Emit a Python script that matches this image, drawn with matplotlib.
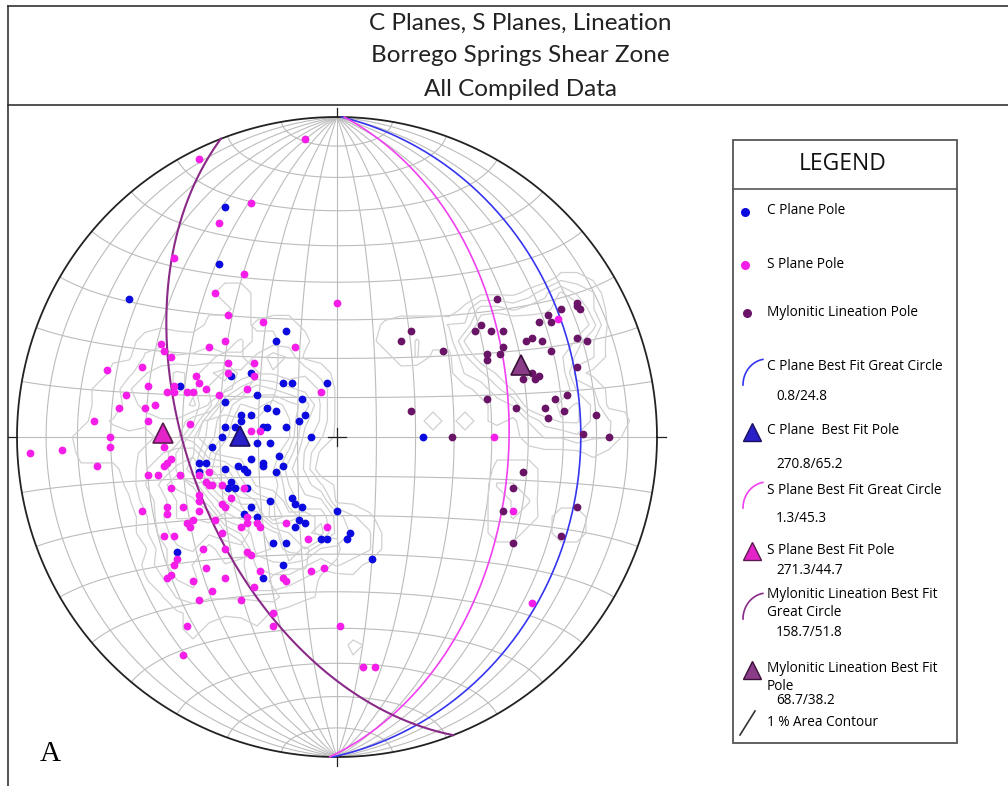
import numpy as np
import matplotlib
matplotlib.use('Agg')
import matplotlib.pyplot as plt
from matplotlib import font_manager
from matplotlib.patches import Rectangle

# Pole positions on the lower-hemisphere equal-area net (unit radius, x east, y north)
c_x = [-0.35, -0.37, -0.65, -0.16, -0.19, -0.27, -0.33, -0.49, -0.17, -0.14,
       -0.03, -0.25, -0.11, -0.35, -0.22, -0.19, -0.10, -0.12, -0.30, -0.30,
       -0.27, -0.16, -0.23, -0.22, -0.08, -0.32, -0.35, -0.36, -0.25, -0.21,
       -0.39, -0.18, -0.27, -0.23, -0.23, -0.17, -0.31, -0.29, -0.28, -0.19,
       -0.43, -0.41, -0.35, -0.43, -0.33, -0.32, -0.34, -0.28, -0.21, -0.14,
       -0.13, -0.11, 0.00, -0.27, -0.29, -0.25, -0.12, -0.10, -0.13, -0.20,
       -0.16, -0.05, -0.03, 0.03, 0.04, 0.11, -0.50, -0.17, -0.23, 0.27]
c_y = [0.72, 0.54, 0.43, 0.33, 0.30, 0.20, 0.19, 0.16, 0.17, 0.17,
       0.17, 0.13, 0.12, 0.11, 0.09, 0.08, 0.07, 0.05, 0.07, 0.05,
       0.07, 0.03, 0.03, 0.03, 0.00, 0.03, 0.03, 0.00, -0.02, -0.02,
       -0.03, -0.06, -0.07, -0.08, -0.09, -0.09, -0.09, -0.10, -0.11, -0.11,
       -0.08, -0.08, -0.10, -0.11, -0.14, -0.16, -0.16, -0.16, -0.20, -0.19,
       -0.21, -0.22, -0.23, -0.22, -0.24, -0.25, -0.26, -0.27, -0.28, -0.33,
       -0.33, -0.32, -0.32, -0.32, -0.30, -0.38, -0.36, -0.40, -0.44, 0.00]

s_x = [-0.10, -0.43, -0.27, -0.37, -0.51, -0.29, -0.38, 0.00, -0.34, -0.23,
       -0.55, -0.54, -0.35, -0.40, -0.13, -0.52, -0.72, -0.61, -0.34, -0.26,
       -0.26, -0.34, -0.44, -0.43, -0.51, -0.51, -0.53, -0.47, -0.45, -0.41,
       -0.37, -0.28, -0.05, -0.59, -0.66, -0.68, -0.60, -0.57, -0.76, -0.59,
       -0.46, -0.27, -0.24, -0.71, -0.71, -0.54, -0.52, -0.53, -0.54, -0.75,
       -0.59, -0.56, -0.49, -0.52, -0.43, -0.41, -0.40, -0.39, -0.36, -0.40,
       -0.29, -0.43, -0.43, -0.43, -0.36, -0.35, -0.33, -0.48, -0.53, -0.53,
       -0.61, -0.47, -0.46, -0.45, -0.38, -0.36, -0.54, -0.51, -0.30, -0.28,
       -0.25, -0.24, -0.28, -0.16, -0.03, -0.09, -0.28, -0.27, -0.42, -0.35,
       -0.50, -0.51, -0.41, -0.52, -0.53, -0.45, -0.35, -0.24, -0.17, -0.16,
       -0.08, -0.04, -0.39, -0.26, -0.43, -0.30, -0.20, -0.20, 0.01, -0.47,
       -0.48, 0.08, 0.12, 0.61, 0.69, 0.49, 0.55, -0.96, -0.86]
s_y = [0.93, 0.87, 0.73, 0.67, 0.56, 0.51, 0.45, 0.42, 0.38, 0.36,
       0.29, 0.27, 0.30, 0.28, 0.28, 0.25, 0.21, 0.22, 0.23, 0.23,
       0.19, 0.20, 0.19, 0.17, 0.16, 0.14, 0.14, 0.14, 0.14, 0.15,
       0.13, 0.15, 0.14, 0.16, 0.13, 0.09, 0.09, 0.10, 0.05, 0.05,
       0.04, 0.02, 0.02, 0.00, -0.03, -0.03, -0.07, -0.08, -0.09, -0.09,
       -0.12, -0.12, -0.12, -0.16, -0.12, -0.14, -0.15, -0.15, -0.15, -0.11,
       -0.16, -0.18, -0.20, -0.23, -0.21, -0.22, -0.19, -0.22, -0.22, -0.24,
       -0.23, -0.27, -0.28, -0.26, -0.26, -0.30, -0.31, -0.31, -0.28, -0.27,
       -0.27, -0.28, -0.25, -0.27, -0.28, -0.32, -0.36, -0.37, -0.35, -0.35,
       -0.38, -0.40, -0.41, -0.43, -0.44, -0.45, -0.44, -0.42, -0.44, -0.45,
       -0.42, -0.41, -0.48, -0.47, -0.51, -0.51, -0.55, -0.59, -0.59, -0.59,
       -0.68, -0.72, -0.72, -0.52, 0.37, 0.00, -0.23, -0.05, -0.04]

l_x = [0.50, 0.70, 0.75, 0.75, 0.76, 0.66, 0.63, 0.67, 0.23, 0.20,
       0.43, 0.45, 0.48, 0.52, 0.61, 0.59, 0.64, 0.75, 0.78, 0.33,
       0.47, 0.47, 0.51, 0.52, 0.67, 0.61, 0.63, 0.62, 0.58, 0.75,
       0.47, 0.68, 0.72, 0.56, 0.65, 0.71, 0.66, 0.81, 0.23, 0.36,
       0.77, 0.85, 0.58, 0.55, 0.52, 0.55, 0.75, 0.70]
l_y = [0.43, 0.40, 0.42, 0.41, 0.40, 0.38, 0.36, 0.36, 0.33, 0.30,
       0.33, 0.35, 0.33, 0.33, 0.31, 0.30, 0.30, 0.31, 0.30, 0.27,
       0.26, 0.24, 0.26, 0.28, 0.27, 0.20, 0.19, 0.18, 0.18, 0.22,
       0.12, 0.12, 0.13, 0.09, 0.09, 0.08, 0.06, 0.07, 0.08, 0.00,
       0.01, 0.00, -0.11, -0.16, -0.23, -0.33, -0.22, -0.31]

# best fit results (strike/dip for planes, trend/plunge for poles)
c_gc = (0.8, 24.8)
c_pole = (270.8, 65.2)
s_gc = (1.3, 45.3)
s_pole = (271.3, 44.7)
l_gc = (158.7, 51.8)
l_pole = (68.7, 38.2)

BLUE = '#0b0be0'
MAG = '#f51ee8'
PURP = '#6a1468'
GRID = '#bcbcbc'
CONT = '#d0d0d0'


def pick_font(*names):
    for n in names:
        try:
            font_manager.findfont(n, fallback_to_default=False)
            return n
        except ValueError:
            pass
    return 'DejaVu Sans'


SANS = pick_font('Open Sans', 'Lato')
TITLE = pick_font('Lato', 'Open Sans')
SERIF = pick_font('Liberation Serif', 'DejaVu Serif')


def proj(x, y, z):
    # lower hemisphere equal-area (Schmidt) projection, unit primitive
    k = 1.0 / np.sqrt(1.0 + z)
    return x * k, y * k


def line_xy(trend, plunge):
    t, p = np.radians(trend), np.radians(plunge)
    return proj(np.cos(p) * np.sin(t), np.cos(p) * np.cos(t), np.sin(p))


def plane_xy(strike, dip):
    s, d = np.radians(strike), np.radians(dip)
    t = np.linspace(0, np.pi, 361)
    sv = np.array([np.sin(s), np.cos(s), 0.0])
    dv = np.array([np.cos(d) * np.sin(s + np.pi / 2),
                   np.cos(d) * np.cos(s + np.pi / 2), np.sin(d)])
    v = np.outer(sv, np.cos(t)) + np.outer(dv, np.sin(t))
    return proj(v[0], v[1], v[2])


def density(px, py, gx, gy):
    px, py = np.asarray(px), np.asarray(py)
    d2 = (gx[..., None] - px) ** 2 + (gy[..., None] - py) ** 2
    pct = (d2 <= 0.1 ** 2).sum(-1) / len(px) * 100.0
    return np.where(gx ** 2 + gy ** 2 <= 1.0, pct, np.nan)


fig = plt.figure(figsize=(10.08, 7.86), dpi=100)

# page layout in pixel units
lay = fig.add_axes([0, 0, 1, 1])
lay.set_xlim(0, 1008)
lay.set_ylim(786, 0)
lay.axis('off')
lay.plot([8, 1008], [6, 6], color='#333333', lw=1.2)
lay.plot([8, 1008], [105, 105], color='#333333', lw=1.2)
lay.plot([8, 8], [6, 786], color='#333333', lw=1.2)
titles = ['C Planes, S Planes, Lineation', 'Borrego Springs Shear Zone',
          'All Compiled Data']
for i, t in enumerate(titles):
    lay.text(520, 23 + i * 33, t, ha='center', va='center', fontsize=17.5,
             family=TITLE, color='#222222')
lay.text(50, 754, 'A', ha='center', va='center', fontsize=21, family=SERIF)

# stereonet
R = 320.0
lim = 1.04
ax = fig.add_axes([(337 - lim * R) / 1008, (786 - 437 - lim * R) / 786,
                   2 * lim * R / 1008, 2 * lim * R / 786])
ax.set_xlim(-lim, lim)
ax.set_ylim(-lim, lim)
ax.axis('off')

# 10 degree grid, N-S polar axis
tt = np.radians(np.linspace(-90, 90, 181))
for a in range(10, 180, 10):
    al = np.radians(a)
    gx, gy = proj(np.cos(tt) * np.cos(al), np.sin(tt), np.cos(tt) * np.sin(al))
    ax.plot(gx, gy, color=GRID, lw=0.8, zorder=1)
ss = np.radians(np.linspace(0, 180, 181))
for b in range(10, 180, 10):
    be = np.radians(b)
    gx, gy = proj(np.sin(be) * np.cos(ss), np.full_like(ss, np.cos(be)),
                  np.sin(be) * np.sin(ss))
    ax.plot(gx, gy, color=GRID, lw=0.8, zorder=1)

# 1% area density contours
g = np.linspace(-1, 1, 41)
GX, GY = np.meshgrid(g, g)
for px, py, lv in [(c_x, c_y, [2, 4, 6, 8, 10, 12, 14]),
                   (s_x, s_y, [2, 4, 6, 8, 10]),
                   (l_x, l_y, [3, 6, 9, 12])]:
    dens = density(px, py, GX, GY)
    ax.contour(GX, GY, dens, levels=lv, colors=CONT, linewidths=0.9, zorder=2)

th = np.linspace(0, 2 * np.pi, 720)
ax.plot(np.cos(th), np.sin(th), color='#222222', lw=1.3, zorder=3)
tk = 0.028
for dx, dy in [(0, 1), (0, -1), (1, 0), (-1, 0)]:
    ax.plot([dx, dx * (1 + tk)], [dy, dy * (1 + tk)], color='#222222',
            lw=0.9, clip_on=False, zorder=3)
ax.plot([-tk, tk], [0, 0], color='#222222', lw=0.9, zorder=3)
ax.plot([0, 0], [-tk, tk], color='#222222', lw=0.9, zorder=3)

# best fit great circles
for (st, dp), col, lw in [(c_gc, '#3535f0', 1.2), (s_gc, '#f040f0', 1.2),
                          (l_gc, '#8a2a88', 1.5)]:
    gx, gy = plane_xy(st, dp)
    ax.plot(gx, gy, color=col, lw=lw, zorder=4)

ax.plot(c_x, c_y, 'o', color=BLUE, ms=5.6, mec='none', zorder=5)
ax.plot(s_x, s_y, 'o', color=MAG, ms=5.6, mec='none', zorder=5)
ax.plot(l_x, l_y, 'o', color=PURP, ms=5.6, mec='none', zorder=5)

for (tr, pl), fc, ec in [(c_pole, '#2a20c8', '#1a1060'),
                         (s_pole, '#e424c8', '#5a1a50'),
                         (l_pole, '#8a3c88', '#3a1038')]:
    px, py = line_xy(tr, pl)
    ax.plot(px, py, '^', ms=15, color=fc, mec=ec, mew=1.2, zorder=6)

# legend box
lay.add_patch(Rectangle((733, 140), 224, 603, fill=False, ec='#555555', lw=1.3))
lay.plot([733, 957], [189, 189], color='#555555', lw=1.2)
lay.text(843, 164, 'LEGEND', ha='center', va='center', fontsize=16.5,
         family=SANS, color='#111111')

fs = 9.8
lay.plot(745, 212, 'o', color=BLUE, ms=6.5, mec='none')
lay.text(767, 210, 'C Plane Pole', va='center', fontsize=fs, family=SANS)
lay.plot(745, 265, 'o', color=MAG, ms=6.5, mec='none')
lay.text(767, 264, 'S Plane Pole', va='center', fontsize=fs, family=SANS)
lay.plot(747, 313, 'o', color=PURP, ms=6.5, mec='none')
lay.text(767, 312, 'Mylonitic Lineation Pole', va='center', fontsize=fs,
         family=SANS)

arc = np.radians(np.linspace(180, 100, 30))
for y0, col, lines, val, vy in [
        (385, '#3535f0', ['C Plane Best Fit Great Circle'], '0.8/24.8', 397),
        (508, '#f040f0', ['S Plane Best Fit Great Circle'], '1.3/45.3', 518),
        (619, '#8a2a88', ['Mylonitic Lineation Best Fit', 'Great Circle'],
         '158.7/51.8', 632)]:
    lay.plot(767 + 24 * np.cos(arc), y0 - 26 * np.sin(arc), color=col, lw=1.2)
    top = y0 - 18 if len(lines) == 1 else y0 - 25
    for k, s in enumerate(lines):
        lay.text(767, top + k * 18, s, va='center', fontsize=fs, family=SANS)
    lay.text(776, vy, val, va='center', fontsize=fs, family=SANS)

for y0, fc, ec, lines, val, vy in [
        (432, '#2a20c8', '#1a1060', ['C Plane  Best Fit Pole'], '270.8/65.2', 465),
        (551, '#e424c8', '#5a1a50', ['S Plane Best Fit Pole'], '271.3/44.7', 570),
        (670, '#8a3c88', '#3a1038', ['Mylonitic Lineation Best Fit', 'Pole'],
         '68.7/38.2', 700)]:
    lay.plot(752, y0, '^', ms=13, color=fc, mec=ec, mew=1.0)
    for k, s in enumerate(lines):
        lay.text(767, y0 - 1 + k * 18, s, va='center', fontsize=fs, family=SANS)
    lay.text(776, vy, val, va='center', fontsize=fs, family=SANS)

lay.plot([740, 755], [735, 711], color='#333333', lw=1.2)
lay.text(767, 722, '1 % Area Contour', va='center', fontsize=fs, family=SANS)

fig.savefig('out.png', dpi=100)
